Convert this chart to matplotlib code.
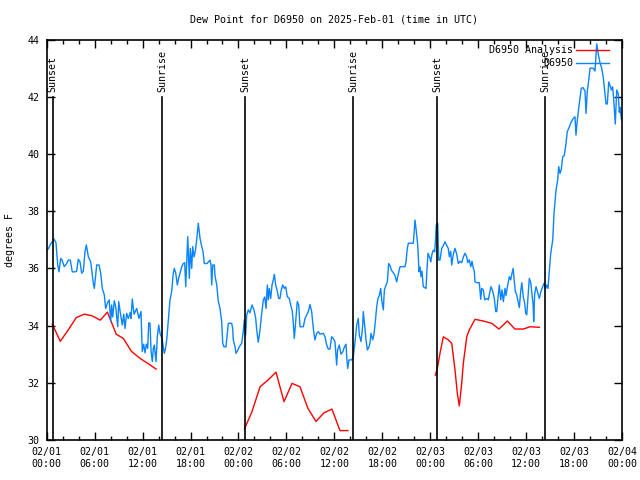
import numpy as np
import matplotlib
matplotlib.use("Agg")
import matplotlib.pyplot as plt
import matplotlib.dates as mdates
from datetime import datetime, timedelta

plt.rcParams['font.family'] = ['DejaVu Sans Mono']
FS = 7.2

title = "Dew Point for D6950 on 2025-Feb-01 (time in UTC)"
ylabel = "degrees F"
start = datetime(2025, 2, 1, 0, 0)

# Observed dew point (hours since 2025-02-01 00:00 UTC, degrees F)
obs_hours = [0.0, 0.2, 0.48, 0.7, 0.91, 1.16, 1.38, 1.54, 1.75, 1.91, 2.2, 2.5, 2.7, 2.95, 3.2, 3.54, 3.75, 3.95,
             4.17, 4.38, 4.58, 4.79, 4.96, 5.21, 5.51, 5.83, 5.96, 6.13, 6.26, 6.55, 6.76, 6.96, 7.21, 7.38, 7.63,
             7.83, 8.01, 8.13, 8.26, 8.46, 8.64, 8.89, 9.01, 9.21, 9.46, 9.64, 9.8, 10.01, 10.21, 10.46, 10.55,
             10.71, 10.93, 11.26, 11.55, 11.8, 11.96, 12.14, 12.3, 12.47, 12.64, 12.77, 12.93, 13.06, 13.22,
             13.34, 13.47, 13.68, 13.84, 14.02, 14.18, 14.43, 14.59, 14.72, 14.87, 15.02, 15.22, 15.43, 15.64,
             15.84, 15.97, 16.15, 16.35, 16.47, 16.68, 16.9, 17.1, 17.27, 17.4, 17.52, 17.65, 17.72, 17.85,
             17.97, 18.15, 18.27, 18.44, 18.6, 18.77, 18.97, 19.19, 19.4, 19.56, 19.72, 20.06, 20.44, 20.56,
             20.65, 20.78, 20.98, 21.06, 21.28, 21.48, 21.69, 21.9, 22.03, 22.19, 22.44, 22.6, 22.73, 23.15,
             23.28, 23.35, 23.57, 23.69, 23.85, 24.1, 24.4, 24.6, 24.73, 24.9, 25.03, 25.23, 25.44, 25.69,
             25.94, 26.16, 26.28, 26.48, 26.7, 26.86, 27.11, 27.29, 27.45, 27.61, 27.74, 27.86, 28.03, 28.2,
             28.36, 28.49, 28.66, 28.86, 29.03, 29.2, 29.36, 29.54, 29.74, 29.91, 30.11, 30.36, 30.54, 30.74,
             30.86, 30.99, 31.2, 31.36, 31.54, 31.7, 32.12, 32.33, 32.54, 32.74, 32.95, 33.16, 33.37, 33.57,
             33.79, 33.99, 34.21, 34.62, 34.83, 35.04, 35.24, 35.45, 35.66, 35.87, 36.08, 36.29, 36.41, 36.62,
             36.83, 37.05, 37.25, 37.46, 37.55, 37.67, 37.83, 38.17, 38.37, 38.59, 38.8, 39.0, 39.12, 39.34,
             39.55, 39.62, 39.8, 39.96, 40.13, 40.34, 40.46, 40.59, 40.8, 40.96, 41.13, 41.3, 41.46, 41.63,
             41.8, 41.97, 42.13, 42.26, 42.47, 42.63, 42.8, 42.97, 43.13, 43.38, 43.59, 43.8, 44.0, 44.22,
             44.84, 44.97, 45.13, 45.26, 45.88, 45.97, 46.09, 46.22, 46.43, 46.6, 46.72, 46.85, 46.97, 47.13,
             47.47, 47.6, 47.72, 47.97, 48.06, 48.22, 48.38, 48.56, 48.66, 48.76, 48.94, 49.06, 49.22, 49.44,
             49.64, 49.85, 50.06, 50.26, 50.39, 50.56, 50.69, 50.89, 51.1, 51.31, 51.51, 51.72, 51.94, 52.14,
             52.35, 52.57, 52.69, 52.89, 53.07, 53.23, 53.39, 53.52, 53.6, 53.81, 54.14, 54.32, 54.44, 54.64,
             54.82, 55.07, 55.27, 55.48, 55.61, 55.82, 56.02, 56.2, 56.32, 56.49, 56.65, 56.82, 56.98, 57.15,
             57.36, 57.49, 57.65, 57.9, 58.07, 58.24, 58.38, 58.52, 58.65, 58.82, 58.99, 59.15, 59.32, 59.46,
             59.65, 59.82, 59.95, 60.08, 60.28, 60.4, 60.58, 60.74, 60.87, 60.95, 61.07, 61.24, 61.41, 61.65,
             61.86, 62.08, 62.24, 62.45, 62.58, 62.74, 62.83, 63.08, 63.33, 63.49, 63.74, 63.95, 64.08, 64.24,
             64.4, 64.58, 64.78, 64.99, 65.15, 65.41, 65.66, 65.91, 66.12, 66.24, 66.41, 66.58, 66.75, 66.91,
             67.12, 67.37, 67.5, 67.66, 67.84, 68.0, 68.41, 68.62, 68.84, 69.04, 69.25, 69.46, 69.66, 69.87,
             70.0, 70.16, 70.34, 70.5, 70.66, 70.83, 71.0, 71.16, 71.34, 71.54, 71.66, 71.75, 71.94]
obs_values = [36.65, 36.68, 36.85, 36.93, 37.03, 36.9, 36.12, 35.88, 36.35, 36.3, 36.06, 36.17, 36.29, 36.29,
              35.88, 35.88, 35.9, 36.32, 36.23, 35.83, 35.9, 36.58, 36.82, 36.41, 36.23, 35.48, 35.3, 35.77,
              36.12, 36.12, 35.83, 35.3, 35.07, 34.6, 34.81, 34.9, 34.14, 34.72, 34.3, 34.87, 34.65, 33.96,
              34.84, 34.45, 34.02, 34.4, 33.9, 34.43, 34.25, 34.46, 34.25, 34.93, 34.4, 34.6, 34.25, 34.49,
              33.09, 33.35, 33.05, 33.35, 33.2, 34.1, 34.08, 33.11, 32.74, 33.2, 33.32, 32.74, 33.6, 34.02,
              33.73, 33.55, 33.26, 33.03, 33.2, 33.5, 34.2, 34.9, 35.19, 35.83, 36.0, 35.83, 35.42, 35.6, 35.83,
              36.06, 36.17, 36.2, 35.36, 36.2, 37.11, 36.6, 35.65, 36.7, 36.0, 36.76, 36.4, 36.6, 36.99, 37.58,
              37.05, 36.76, 36.6, 36.17, 36.17, 36.29, 36.12, 35.42, 36.12, 36.12, 35.75, 35.42, 34.84, 34.6,
              34.14, 33.38, 33.26, 33.26, 33.73, 34.08, 34.08, 33.9, 33.5, 33.26, 33.03, 33.1, 33.26, 33.38,
              33.79, 34.2, 33.67, 34.37, 34.55, 34.45, 34.72, 34.55, 34.25, 33.85, 33.42, 33.85, 34.31, 34.9,
              35.0, 34.6, 35.42, 34.9, 35.3, 34.95, 35.42, 35.6, 35.79, 35.42, 35.2, 34.95, 34.95, 35.25, 35.42,
              35.3, 35.36, 35.01, 34.95, 34.72, 34.5, 34.08, 33.55, 34.3, 34.84, 34.72, 33.96, 33.96, 34.25,
              34.37, 34.49, 34.74, 34.49, 33.9, 33.5, 33.73, 33.79, 33.7, 33.73, 33.61, 33.32, 33.18, 33.18,
              33.61, 33.55, 33.43, 32.62, 33.15, 33.32, 33.0, 33.08, 33.25, 33.35, 32.9, 32.5, 32.8, 32.8,
              32.91, 33.44, 34.02, 34.25, 33.67, 33.44, 34.0, 34.49, 34.0, 33.5, 33.15, 33.25, 33.4, 33.73,
              33.5, 33.7, 34.14, 34.66, 34.95, 35.05, 35.3, 34.8, 34.55, 35.24, 35.42, 35.53, 36.17, 36.1,
              35.94, 35.85, 35.75, 35.53, 35.8, 36.06, 36.06, 36.23, 36.7, 36.88, 36.88, 37.2, 37.69, 37.4,
              36.82, 35.88, 36.05, 35.71, 35.9, 35.36, 35.3, 36.0, 36.53, 36.35, 36.23, 36.5, 36.64, 36.58,
              37.0, 37.52, 37.58, 36.29, 36.29, 36.7, 36.8, 36.93, 36.8, 36.7, 36.41, 36.6, 36.12, 36.5, 36.7,
              36.5, 36.17, 36.25, 36.2, 36.4, 36.53, 36.4, 36.2, 36.3, 36.06, 36.25, 36.0, 35.9, 35.53, 35.5,
              35.5, 34.92, 35.3, 35.25, 34.9, 34.95, 34.9, 35.2, 35.36, 35.2, 34.95, 34.49, 34.49, 35.0, 35.42,
              34.9, 35.25, 34.84, 35.3, 35.05, 35.35, 35.71, 35.6, 35.84, 36.0, 35.55, 35.19, 35.08, 34.85,
              34.63, 35.19, 35.5, 35.0, 34.78, 34.43, 34.38, 35.19, 35.65, 35.5, 35.1, 34.75, 34.14, 35.1,
              35.36, 35.2, 34.95, 35.2, 35.36, 35.48, 35.3, 35.42, 35.3, 35.65, 36.53, 36.99, 37.92, 38.74,
              39.09, 39.56, 39.32, 39.45, 39.91, 39.95, 40.37, 40.78, 40.95, 41.13, 41.25, 41.3, 40.66, 41.19,
              41.6, 41.95, 42.3, 42.32, 42.2, 41.42, 42.2, 42.59, 43.0, 43.0, 42.9, 43.85, 43.48, 43.19, 43.0,
              42.67, 42.1, 41.75, 41.75, 42.52, 42.4, 42.24, 42.35, 41.75, 41.05, 42.24, 42.1, 41.46, 41.63,
              41.2]

# Analysis dew point (NaN separates the nightly segments)
ana_hours = [0.7, 1.7, 2.7, 3.7, 4.7, 5.7, 6.7, 7.6, 8.7, 9.6, 10.6, 11.7, 12.7, 13.7, np.nan,
             24.74, 25.7, 26.7, 27.7, 28.7, 29.7, 30.7, 31.7, 32.7, 33.7, 34.7, 35.7, 36.7, 37.7, np.nan,
             48.64, 48.89, 49.22, 49.64, 50.26, 50.69, 51.1, 51.39, 51.64, 51.94, 52.14, 52.57, 52.89, 53.6,
             54.64, 55.7, 56.6, 57.65, 58.6, 59.65, 60.5, 61.65]
ana_values = [34.05, 33.45, 33.85, 34.28, 34.4, 34.34, 34.19, 34.47, 33.7, 33.55, 33.1, 32.85, 32.67, 32.48, np.nan,
              30.38, 31.0, 31.86, 32.1, 32.37, 31.34, 31.98, 31.86, 31.1, 30.65, 30.95, 31.08, 30.33, 30.33, np.nan,
              32.27, 32.5, 33.03, 33.61, 33.5, 33.38, 32.45, 31.63, 31.19, 31.98, 32.68, 33.61, 33.85, 34.22,
              34.16, 34.08, 33.88, 34.16, 33.88, 33.88, 33.96, 33.94]

sun_hours = [0.75, 14.47, 24.86, 38.37, 48.89, 62.4]
sun_labels = ["Sunset", "Sunrise", "Sunset", "Sunrise", "Sunset", "Sunrise"]

obs_t = mdates.date2num([start + timedelta(hours=h) for h in obs_hours])
ana_t = np.array([mdates.date2num(start + timedelta(hours=h)) if not np.isnan(h) else np.nan for h in ana_hours])

fig = plt.figure(figsize=(6.4, 4.8), dpi=100)
ax = fig.add_axes([46.7/640, 1 - 440/480, (622 - 46.7)/640, (440 - 39.6)/480])

ax.plot(ana_t, ana_values, color='#ff0000', lw=1.0, label='D6950 Analysis')
ax.plot(obs_t, obs_values, color='#0a84ff', lw=1.0, label='D6950')

for h, lab in zip(sun_hours, sun_labels):
    xd = mdates.date2num(start + timedelta(hours=h))
    ax.plot([xd, xd], [0, 0.857], transform=ax.get_xaxis_transform(), color='black', lw=1.2)
    ax.text(xd, 0.868, lab, transform=ax.get_xaxis_transform(), rotation=90,
            ha='center', va='bottom', fontsize=FS)

x0 = mdates.date2num(start)
x1 = mdates.date2num(start + timedelta(hours=72))
ax.set_xlim(x0, x1)
ax.set_ylim(30, 44)
ax.set_yticks(np.arange(30, 45, 2))
ax.xaxis.set_major_locator(mdates.HourLocator(byhour=[0, 6, 12, 18]))
ax.xaxis.set_minor_locator(mdates.HourLocator(byhour=range(0, 24, 2)))
ax.xaxis.set_major_formatter(mdates.DateFormatter('%m/%d\n%H:%M'))
ax.tick_params(which='both', direction='in', top=True, right=True, labelsize=FS, width=1)
ax.tick_params(which='major', length=6, pad=5)
ax.tick_params(which='minor', length=3)
for s in ax.spines.values():
    s.set_linewidth(1.2)

ax.set_title(title, fontsize=FS, pad=12)
ax.set_ylabel(ylabel, fontsize=FS, labelpad=9)

leg = ax.legend(loc='upper right', bbox_to_anchor=(614/640, 1 - 40/480), bbox_transform=fig.transFigure,
                frameon=False, markerfirst=False, handlelength=3.3, fontsize=FS,
                labelspacing=0.35, borderpad=0, handletextpad=0.3)

fig.savefig('out.png', dpi=100)
